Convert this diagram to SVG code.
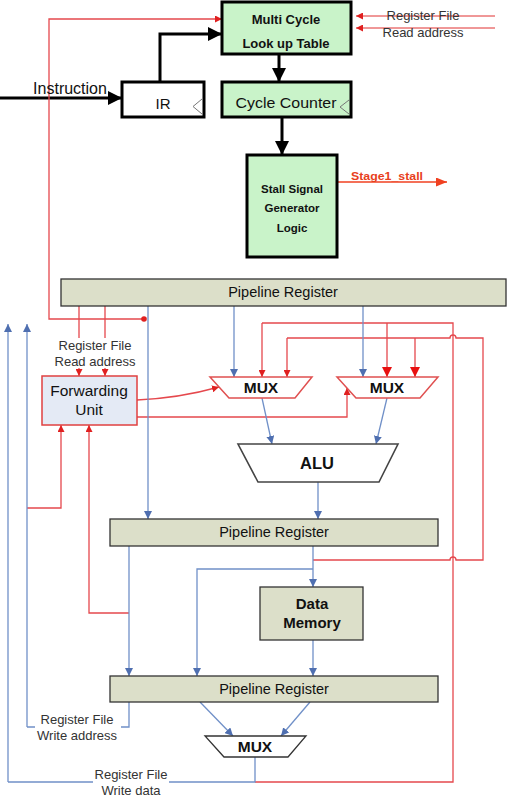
<svg xmlns="http://www.w3.org/2000/svg" width="507" height="799" viewBox="0 0 507 799">
<style>
text{font-family:"Liberation Sans",Arial,sans-serif;fill:#111}
.lbl{font-size:13px;fill:#333}
.b{font-weight:bold}
.green{fill:#c9f3c9;stroke:#000;stroke-width:3}
.preg{fill:#dcdfc9;stroke:#333;stroke-width:1.3}
.red{fill:none;stroke:#e5484d;stroke-width:1.3}
.redA{fill:none;stroke:#e5484d;stroke-width:1.3;marker-end:url(#ar)}
.redB{fill:none;stroke:#e5484d;stroke-width:1.3;marker-end:url(#arB)}
.blue{fill:none;stroke:#7090c8;stroke-width:1.3}
.blueA{fill:none;stroke:#7090c8;stroke-width:1.3;marker-end:url(#ab)}
.blk{fill:none;stroke:#000;stroke-width:3;marker-end:url(#ak)}
</style>
<defs>
<marker id="ak" markerUnits="userSpaceOnUse" markerWidth="14" markerHeight="14" refX="14" refY="7" orient="auto"><path d="M0,0 L14,7 L0,14 z" fill="#000"/></marker>
<marker id="ar" markerUnits="userSpaceOnUse" markerWidth="7" markerHeight="7" refX="7" refY="3.5" orient="auto"><path d="M0,0 L7,3.5 L0,7 z" fill="#e02020"/></marker>
<marker id="arB" markerUnits="userSpaceOnUse" markerWidth="10" markerHeight="10" refX="10" refY="5" orient="auto"><path d="M0,0 L10,5 L0,10 z" fill="#e81010"/></marker>
<marker id="ab" markerUnits="userSpaceOnUse" markerWidth="8" markerHeight="8" refX="8" refY="4" orient="auto"><path d="M0,0 L8,4 L0,8 z" fill="#4f6fb0"/></marker>
<marker id="ao" markerUnits="userSpaceOnUse" markerWidth="11" markerHeight="9" refX="11" refY="4.5" orient="auto"><path d="M0,0 L11,4.5 L0,9 z" fill="#f04020"/></marker>
</defs>

<g id="connectors">
<!-- black -->
<path class="blk" d="M0,98 H122"/>
<path class="blk" d="M160,82 V34 H222"/>
<path class="blk" d="M279,54 V82"/>
<path class="blk" d="M282,117 V155"/>
<path d="M337,182 H447" fill="none" stroke="#f04020" stroke-width="1.3" marker-end="url(#ao)"/>
<!-- top right read address -->
<path d="M495,16 H356" fill="none" stroke="#e03030" stroke-width="1" marker-end="url(#ar)"/>
<path d="M495,28 H356" fill="none" stroke="#e03030" stroke-width="1" marker-end="url(#ar)"/>
<!-- red from pipeline reg to LUT -->
<path class="redA" d="M144,319 H49 V19 H222"/>
<circle cx="144" cy="319" r="2.8" fill="#e02020"/>
<!-- read address to forwarding unit -->
<path class="red" d="M79,306 V338 M105,306 V338"/>
<path class="redA" d="M79,368 V376"/>
<path class="redA" d="M105,368 V376"/>
<!-- into forwarding unit bottom -->
<path class="redA" d="M27,508 H61 V425"/>
<path class="redA" d="M129,613 H89 V425"/>
<!-- forwarding to muxes -->
<path class="redA" d="M137,400 Q180,398 219,387"/>
<path class="redA" d="M137,417 H347 V388"/>
<!-- WB forward line -->
<path class="red" d="M262,323 H453 V782 H255"/>
<path class="redA" d="M262,323 V377"/>
<path class="redB" d="M387,323 V377"/>
<!-- MEM forward line -->
<path class="red" d="M287,338 H450 A3,3 0 0 1 456,338 H483 V560 H456 A3,3 0 0 0 450,560 H313"/>
<path class="redA" d="M287,338 V377"/>
<path class="redB" d="M415,338 V377"/>
<!-- blue -->
<path class="blueA" d="M8,782 V324"/>
<path class="blueA" d="M27,727 V324"/>
<path class="blue" d="M27,727 H35 M121,727 H129 V702"/>
<path class="blue" d="M8,782 H93 M169,782 H255 V757"/>
<path class="blueA" d="M234,306 V377"/>
<path class="blueA" d="M363,306 V377"/>
<path class="blueA" d="M148,306 V519"/>
<path class="blueA" d="M262,398 L272,444"/>
<path class="blueA" d="M387,398 L376,444"/>
<path class="blueA" d="M318,482 V519"/>
<path class="blueA" d="M129,546 V676"/>
<path class="blueA" d="M313,546 V587"/>
<path class="blueA" d="M313,569 H197 V676"/>
<path class="blueA" d="M313,640 V676"/>
<path class="blueA" d="M200,702 L233,736"/>
<path class="blueA" d="M310,702 L281,736"/>
</g>

<g id="lut">
<rect class="green" x="222" y="2" width="129" height="52"/>
<text class="b" x="286" y="24" font-size="13" text-anchor="middle">Multi Cycle</text>
<text class="b" x="286" y="48" font-size="13" text-anchor="middle">Look up Table</text>
</g>
<g id="ir">
<rect x="122" y="82" width="82" height="35" fill="#fff" stroke="#000" stroke-width="3"/>
<polyline points="202,99 193,106.5 202,114" fill="none" stroke="#777" stroke-width="1"/>
<text x="163" y="109" font-size="15" text-anchor="middle">IR</text>
</g>
<text x="70" y="94" font-size="16" text-anchor="middle" id="instr-label">Instruction</text>
<g id="counter">
<rect class="green" x="222" y="82" width="129" height="35"/>
<polyline points="349,100 340,107 349,114" fill="none" stroke="#777" stroke-width="1"/>
<text x="286" y="108" font-size="15.5" text-anchor="middle" textLength="101" lengthAdjust="spacingAndGlyphs">Cycle Counter</text>
</g>
<g id="stall">
<rect class="green" x="247" y="155" width="90" height="102"/>
<text class="b" x="292" y="193" font-size="11.5" text-anchor="middle">Stall Signal</text>
<text class="b" x="292" y="212" font-size="11.5" text-anchor="middle">Generator</text>
<text class="b" x="292" y="232" font-size="11.5" text-anchor="middle">Logic</text>
</g>
<text class="b" x="387" y="180" font-size="11.5" text-anchor="middle" style="fill:#e8401c" textLength="72" lengthAdjust="spacingAndGlyphs">Stage1_stall</text>
<text class="lbl" x="423" y="20" text-anchor="middle">Register File</text>
<text class="lbl" x="423" y="37" text-anchor="middle">Read address</text>

<g id="preg1">
<rect class="preg" x="61" y="279" width="445" height="27"/>
<text x="283" y="297" font-size="14.5" text-anchor="middle">Pipeline Register</text>
</g>
<text class="lbl" x="95" y="350" text-anchor="middle">Register File</text>
<text class="lbl" x="95" y="366" text-anchor="middle">Read address</text>
<g id="fwd">
<rect x="42" y="376" width="95" height="49" fill="#e4eaf5" stroke="#e04040" stroke-width="1.5"/>
<text x="89" y="396" font-size="15.5" text-anchor="middle">Forwarding</text>
<text x="89" y="415" font-size="15.5" text-anchor="middle">Unit</text>
</g>
<g id="mux1">
<polygon points="210,377 312,377 295,398 229,398" fill="#fff" stroke="#e05050" stroke-width="1.5"/>
<text class="b" x="261" y="393" font-size="15.5" text-anchor="middle">MUX</text>
</g>
<g id="mux2">
<polygon points="337,377 438,377 420,398 356,398" fill="#fff" stroke="#e05050" stroke-width="1.5"/>
<text class="b" x="387" y="393" font-size="15.5" text-anchor="middle">MUX</text>
</g>
<g id="alu">
<polygon points="238,444 398,444 379,482 258,482" fill="#fff" stroke="#444" stroke-width="1.6"/>
<text class="b" x="317" y="469" font-size="16.5" text-anchor="middle">ALU</text>
</g>
<g id="preg2">
<rect class="preg" x="110" y="519" width="328" height="27"/>
<text x="274" y="537" font-size="14.5" text-anchor="middle">Pipeline Register</text>
</g>
<g id="dmem">
<rect class="preg" x="260" y="587" width="103" height="53"/>
<text class="b" x="312" y="609" font-size="15" text-anchor="middle">Data</text>
<text class="b" x="312" y="628" font-size="15" text-anchor="middle">Memory</text>
</g>
<g id="preg3">
<rect class="preg" x="110" y="676" width="328" height="26"/>
<text x="274" y="694" font-size="14.5" text-anchor="middle">Pipeline Register</text>
</g>
<g id="mux3">
<polygon points="205,736 306,736 288,757 224,757" fill="#fff" stroke="#333" stroke-width="1.3"/>
<text class="b" x="255" y="752" font-size="15.5" text-anchor="middle">MUX</text>
</g>
<text class="lbl" x="77" y="724" text-anchor="middle">Register File</text>
<text class="lbl" x="77" y="740" text-anchor="middle">Write address</text>
<text class="lbl" x="131" y="779" text-anchor="middle">Register File</text>
<text class="lbl" x="131" y="795" text-anchor="middle">Write data</text>
</svg>
